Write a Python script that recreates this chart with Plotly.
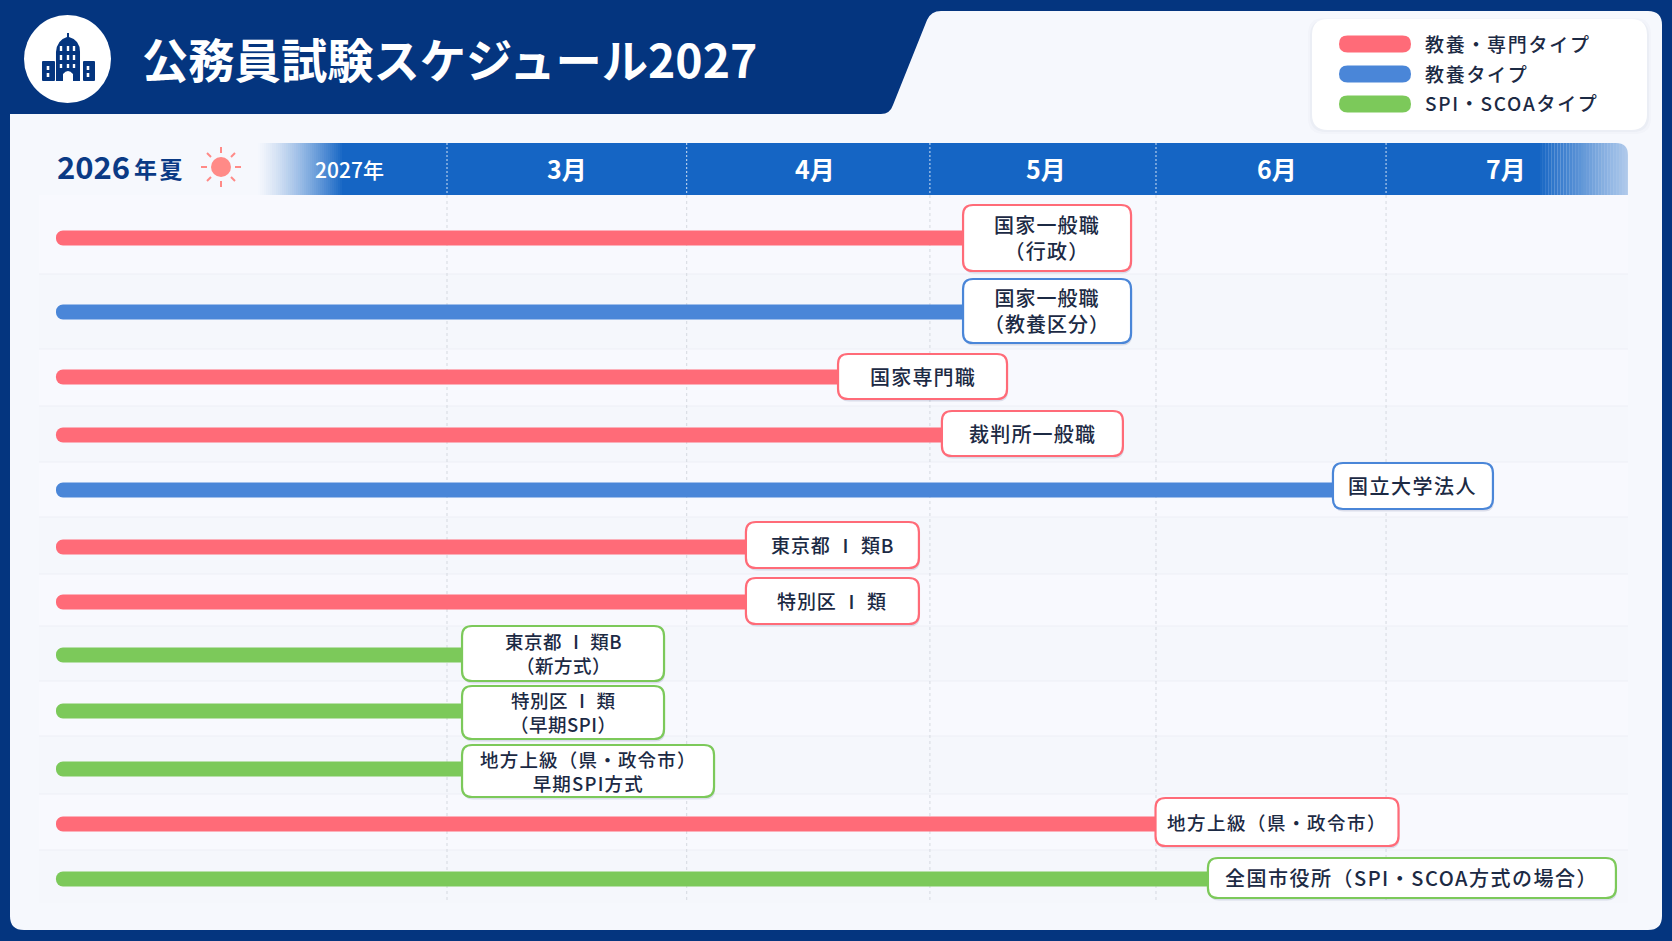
import plotly.graph_objects as go

# --- chart data ---
TITLE = "公務員試験スケジュール2027"
LEGEND_NAMES = {"red": "教養・専門タイプ", "blue": "教養タイプ", "green": "SPI・SCOAタイプ"}

exam_labels = [
    "国家一般職<br>（行政）", "国家一般職<br>（教養区分）", "国家専門職", "裁判所一般職",
    "国立大学法人", "東京都 Ⅰ 類B", "特別区 Ⅰ 類", "東京都 Ⅰ 類B<br>（新方式）",
    "特別区 Ⅰ 類<br>（早期SPI）", "地方上級（県・政令市）<br>早期SPI方式",
    "地方上級（県・政令市）", "全国市役所（SPI・SCOA方式の場合）",
]
exam_types = ["red", "blue", "red", "red", "blue", "red", "red",
              "green", "green", "green", "red", "green"]
# bar ends, read in month units (3 = start of March)
exam_ends = [5.196, 5.196, 4.664, 5.106, 6.77, 4.272, 4.272,
             3.064, 3.064, 3.064, 6.015, 6.238]
bar_start = 1.336

month_labels = ["3月", "4月", "5月", "6月", "7月"]
month_edges = [3.0, 4.02, 5.055, 6.017, 6.996]
month_label_pos = [3.512, 4.564, 5.55, 6.53, 7.507]

# --- layout ---
W, H = 1672, 941
PX_PER_MONTH = 235
NAVY = "#04357F"
BAND = "#1565C4"
PANEL = "#F6F8FD"
TEXT = "#1C2A44"
JP = "Noto Sans CJK JP"
COLORS = {"red": "#FF6B78", "blue": "#4A86D8", "green": "#7CC95A"}

row_y = [238, 312, 377, 435, 490, 547, 602, 655, 711, 769, 824, 879]
row_lines = [274, 349, 406, 462, 517, 574, 626, 681, 736, 794, 850]
box_w = [168, 168, 169, 181, 160, 173, 173, 202, 202, 252, 243, 408]
box_top = [205, 279, 354, 411, 463, 522, 578, 626, 686, 745, 798, 858]
box_bot = [271, 343, 399, 456, 509, 568, 624, 681, 739, 797, 846, 898]
box_font = [20, 20, 20, 20, 20, 19, 19, 18.5, 18.5, 18.5, 18.5, 20]
box_spacing = [1.2, 1.0, 1.2, 1.2, 1.5, 0.9, 0.9, 0.5, 0.5, 1.2, 1.5, 1.5]


def px(x):
    return x / W


def py(y):
    return 1 - y / H


def month_at(x):
    return 3 + (x - 447) / PX_PER_MONTH


def spaced(text, spacing):
    # plotly has no letter-spacing option, so it goes in through a span per line
    return "<br>".join(f'<span style="letter-spacing:{spacing}px">{line}</span>'
                       for line in text.split("<br>"))


def paper_path(pts):
    parts = []
    for p in pts:
        coords = []
        for i in range(1, len(p), 2):
            coords.append(f"{px(p[i]):.5f},{py(p[i + 1]):.5f}")
        parts.append(p[0] + " " + " ".join(coords))
    return " ".join(parts)


def rounded(x0, y0, x1, y1, r):
    # rounded rectangle in window pixels, as a paper-space path
    pts = [
        ("M", x0 + r, y0), ("L", x1 - r, y0), ("Q", x1, y0, x1, y0 + r),
        ("L", x1, y1 - r), ("Q", x1, y1, x1 - r, y1), ("L", x0 + r, y1),
        ("Q", x0, y1, x0, y1 - r), ("L", x0, y0 + r), ("Q", x0, y0, x0 + r, y0),
    ]
    return paper_path(pts) + " Z"


def paper_shape(path, fill, layer="below"):
    return dict(type="path", xref="paper", yref="paper", path=path, fillcolor=fill,
                line=dict(color="rgba(0,0,0,0)", width=0), layer=layer)


def paper_rect(x0, y0, x1, y1, fill, layer="below"):
    return dict(type="rect", xref="paper", yref="paper", x0=px(x0), x1=px(x1),
                y0=py(y0), y1=py(y1), fillcolor=fill, line=dict(width=0), layer=layer)


def paper_text(x, y, text, size, color=TEXT, weight=500, spacing=0):
    return dict(xref="paper", yref="paper", x=px(x), y=py(y), text=spaced(text, spacing),
                showarrow=False, xanchor="left", yanchor="middle", align="left",
                font=dict(family=JP, size=size, color=color, weight=weight))


shapes = []
annotations = []

# panel with the slanted header notch
panel_pts = [
    ("M", 10, 114), ("L", 881, 114), ("Q", 890, 114, 893, 105), ("L", 927, 20),
    ("Q", 931, 11, 941, 11), ("L", 1648, 11), ("Q", 1662, 11, 1662, 25),
    ("L", 1662, 916), ("Q", 1662, 930, 1648, 930), ("L", 24, 930),
    ("Q", 10, 930, 10, 916),
]
shapes.append(paper_shape(paper_path(panel_pts) + " Z", PANEL))

# alternating row tint
row_edges = [195] + row_lines + [903]
for i in range(0, len(row_edges) - 1):
    tint = "#F5F7FC" if i % 2 else "#F8F9FE"
    shapes.append(paper_rect(39, row_edges[i], 1628, row_edges[i + 1], tint))
for y in row_lines:
    shapes.append(paper_rect(39, y - 0.5, 1628, y + 0.5, "#EDF0F6"))

# month header band, faded on both ends
shapes.append(paper_rect(344, 143, 1540, 195, BAND))
for i in range(43):
    shapes.append(paper_rect(258 + i * 2, 143, 260 + i * 2, 195,
                             f"rgba(21,101,196,{((i + 1) / 43) ** 1.3:.3f})"))
for i in range(30):
    shapes.append(paper_rect(1540 + i * 2.93, 143, 1540 + (i + 1) * 2.93, 195,
                             f"rgba(21,101,196,{1 - 0.68 * (i + 1) / 30:.3f})"))
shapes.append(paper_shape(paper_path([("M", 1616, 143), ("Q", 1628, 143, 1628, 155),
                                      ("L", 1630, 155), ("L", 1630, 142), ("L", 1616, 142)]) + " Z",
                          PANEL))

# month grid lines, drawn from the month edges
for m in month_edges:
    shapes.append(dict(type="line", xref="x", yref="y", x0=m, x1=m, y0=195, y1=903,
                       line=dict(color="#D5D9E0", width=1, dash="3px,3px"), layer="below"))
    shapes.append(dict(type="line", xref="x", yref="y", x0=m, x1=m, y0=143, y1=195,
                       line=dict(color="rgba(255,255,255,0.8)", width=1, dash="2px,2px"),
                       layer="below"))

# header badge and building icon
shapes.append(dict(type="circle", xref="paper", yref="paper", x0=px(24), x1=px(111),
                   y0=py(15), y1=py(103), fillcolor="white", line=dict(width=0)))
shapes.append(paper_shape(rounded(42, 61, 55, 81, 1), NAVY, "above"))
shapes.append(paper_shape(rounded(83, 61, 95, 81, 1), NAVY, "above"))
dome = [("M", 56, 81), ("L", 56, 52), ("Q", 57, 40, 67, 37), ("L", 67, 33), ("L", 69, 33),
        ("L", 69, 37), ("Q", 80, 40, 80, 52), ("L", 80, 81), ("L", 73, 81), ("L", 73, 74),
        ("Q", 68, 68, 63, 74), ("L", 63, 81)]
shapes.append(paper_shape(paper_path(dome) + " Z", NAVY, "above"))
for wx in (61, 68, 74):
    for wy, wh in ((46, 5), (55, 5), (64, 4)):
        shapes.append(paper_rect(wx - 1.2, wy, wx + 1.2, wy + wh, "white", "above"))
for wx in (48, 88):
    for wy in (66, 73):
        shapes.append(paper_rect(wx - 1.3, wy, wx + 1.3, wy + 4, "white", "above"))

# sun next to the 2026 label
SUN = "#FF8A87"
shapes.append(dict(type="circle", xref="paper", yref="paper", x0=px(211), x1=px(231),
                   y0=py(157), y1=py(177), fillcolor=SUN, line=dict(width=0), layer="below"))
for dx0, dy0, dx1, dy1 in [(0, -14, 0, -20), (0, 14, 0, 20), (-14, 0, -20, 0), (14, 0, 20, 0),
                           (10, -10, 14, -14), (-10, -10, -14, -14), (10, 10, 14, 14), (-10, 10, -14, 14)]:
    shapes.append(dict(type="line", xref="paper", yref="paper", x0=px(221 + dx0), x1=px(221 + dx1),
                       y0=py(167 + dy0), y1=py(167 + dy1), line=dict(color=SUN, width=2), layer="below"))

# legend card
for grow, alpha in ((4, 0.02), (2, 0.03)):
    shapes.append(paper_shape(rounded(1312 - grow, 19 - grow + 3, 1647 + grow, 130 + grow, 16),
                              f"rgba(40,60,110,{alpha})"))
shapes.append(paper_shape(rounded(1312, 19, 1647, 130, 16), "white"))
for (key, name), y in zip(LEGEND_NAMES.items(), [44, 74, 104]):
    shapes.append(paper_shape(rounded(1339, y - 8.5, 1411, y + 8.5, 8.5), COLORS[key]))
    annotations.append(paper_text(1423, y - 1, name, 19, spacing=1.7))

# label boxes, anchored on the bar ends in data space
for i, label in enumerate(exam_labels):
    color = COLORS[exam_types[i]]
    top = box_top[i] - row_y[i]
    bot = box_bot[i] - row_y[i]
    w = box_w[i]
    r = 10

    def box_path(dx=0, dy=0):
        t, b = -(top + dy), -(bot + dy)  # pixel mode y runs upward
        rt, rb = t - r, b + r
        return (f"M {r + dx},{t} L {w - r + dx},{t} Q {w + dx},{t} {w + dx},{rt} "
                f"L {w + dx},{rb} Q {w + dx},{b} {w - r + dx},{b} L {r + dx},{b} "
                f"Q {dx},{b} {dx},{rb} L {dx},{rt} Q {dx},{t} {r + dx},{t} Z")

    shapes.append(dict(type="path", xsizemode="pixel", ysizemode="pixel", xref="x", yref="y",
                       xanchor=exam_ends[i], yanchor=row_y[i], path=box_path(1, 2.5),
                       fillcolor="rgba(40,60,110,0.14)", line=dict(width=0)))
    shapes.append(dict(type="path", xsizemode="pixel", ysizemode="pixel", xref="x", yref="y",
                       xanchor=exam_ends[i], yanchor=row_y[i], path=box_path(),
                       fillcolor="white", line=dict(color=color, width=2.2)))
    annotations.append(dict(xref="x", yref="y", x=exam_ends[i], y=(box_top[i] + box_bot[i]) / 2 - 0.5,
                            xshift=w / 2, text=spaced(label, box_spacing[i]), showarrow=False,
                            xanchor="center", yanchor="middle", align="center",
                            font=dict(family=JP, size=box_font[i], color=TEXT, weight=500)))

# header texts
annotations.append(paper_text(140, 58, TITLE, 46.3, color="white", weight=700))
annotations.append(paper_text(55, 166, "2026", 31, color="#0A3A85", weight=700))
annotations.append(paper_text(132, 168, "年夏", 23, color="#0A3A85", weight=700, spacing=2.5))
annotations.append(dict(xref="x", yref="y", x=month_at(349), y=169, text="2027年", showarrow=False,
                        font=dict(family=JP, size=21, color="white", weight=500)))
for label, pos in zip(month_labels, month_label_pos):
    annotations.append(dict(xref="x", yref="y", x=pos, y=168, text=label, showarrow=False,
                            font=dict(family=JP, size=25, color="white", weight=700)))

# --- bars ---
fig = go.Figure()
for key, name in LEGEND_NAMES.items():
    idx = [i for i, t in enumerate(exam_types) if t == key]
    fig.add_trace(go.Bar(
        orientation="h",
        name=name,
        y=[row_y[i] for i in idx],
        x=[exam_ends[i] - bar_start + 0.03 for i in idx],
        base=bar_start,
        width=15,
        text=[exam_labels[i].replace("<br>", " ") for i in idx],
        hovertemplate="%{text}<extra>" + name + "</extra>",
        textposition="none",
        marker=dict(color=COLORS[key], cornerradius=7, line=dict(width=0)),
    ))

fig.update_layout(
    width=W,
    height=H,
    margin=dict(l=0, r=0, t=0, b=0),
    paper_bgcolor=NAVY,
    plot_bgcolor="rgba(0,0,0,0)",
    barmode="overlay",
    showlegend=False,
    shapes=shapes,
    annotations=annotations,
    xaxis=dict(range=[month_at(0), month_at(W)], visible=False, fixedrange=True),
    yaxis=dict(range=[H, 0], visible=False, fixedrange=True),
    font=dict(family=JP),
)

fig.write_html("out.html", config={"displayModeBar": False},
               post_script="document.body.style.margin='0';")
